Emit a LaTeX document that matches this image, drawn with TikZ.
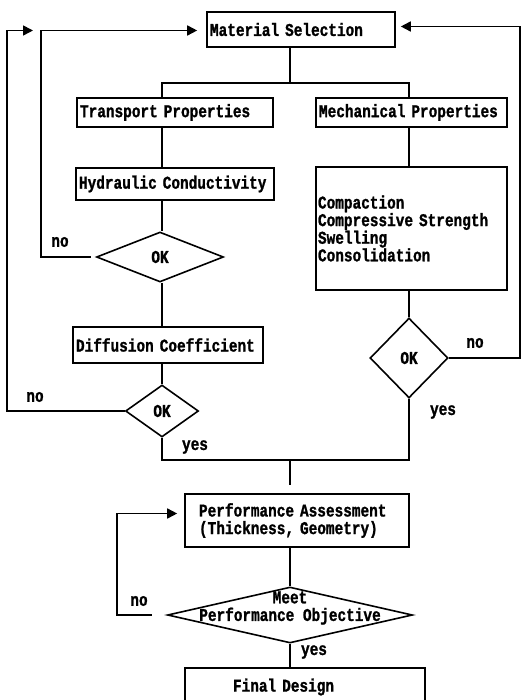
\documentclass[tikz,border=0pt]{standalone}
\usepackage{fontspec}
\newfontfamily\dotfont[FakeStretch=0.8,FakeBold=1.2]{Liberation Mono}
\usetikzlibrary{arrows.meta,shapes.geometric}
\begin{document}
\begin{tikzpicture}[x=1pt,y=-1pt]
		\tikzset{box/.style = {shape=rectangle,draw,inner xsep=3pt,inner ysep=0pt,align=left}}
		\tikzset{test/.style = {shape=diamond,draw,inner sep=0pt}}
		\tikzset{edge/.style = {->,> = {Triangle[length=10pt,width=10pt]}}}
		\tikzset{every node/.style = {font=\dotfont\bfseries\fontsize{18}{17.6}\selectfont}}
		\useasboundingbox (0,0) rectangle (522,700);
		\clip (0,0) rectangle (522,700);
		\tikzset{every path/.style = {line width=1.6pt}}
		% columns
		\coordinate (lcol) at (162,0);
		\coordinate (mcol) at (290,0);
		\coordinate (rcol) at (409,0);
		\coordinate (inner) at (41,0);
		\coordinate (outer) at (7,0);
		\coordinate (rloop) at (520,0);
		\coordinate (ploop) at (117,0);
		\coordinate (split) at (290,83);
		\coordinate (join) at (290,460);
		% boxes
		\node[box,text width=182pt,minimum height=35pt] (mat) at (301,29.5) {Material Selection};
		\node[box,text width=190pt,minimum height=29pt] (trans) at (175,112.5) {Transport Properties};
		\node[box,text width=185pt,minimum height=29pt,inner xsep=3pt] (mech) at (411.5,112.5) {Mechanical Properties};
		\node[box,text width=192pt,minimum height=32pt] (hyd) at (175,184) {Hydraulic Conductivity};
		\node[box,text width=187pt,minimum height=123pt,inner xsep=2pt] (comp) at (411.5,228.5) {Compaction\\Compressive Strength\\Swelling\\Consolidation};
		\node[box,text width=184pt,minimum height=36pt] (diff) at (168,345) {Diffusion Coefficient};
		\node[box,text width=196pt,minimum height=53pt,inner xsep=14pt] (perf) at (297,520.5) {Performance Assessment\\(Thickness, Geometry)};
		\node[box,text width=144pt,minimum height=38pt,inner xsep=48pt] (final) at (305,687) {Final Design};
		% decisions
		\node[test,minimum width=127pt,minimum height=50pt] (ok1) at (160,257) {OK};
		\node[test,minimum width=73pt,minimum height=52pt] (ok2) at (162,411) {OK};
		\node[test,minimum width=78pt,minimum height=80pt] (ok3) at (409,358) {OK};
		\node[test,minimum width=245pt,minimum height=56pt,
			label={[align=center,yshift=7pt]center:Meet\\Performance Objective}] (meet) at (290,615) {};
		% labels
		\node (no1) at (60,242) {no};
		\node (no2) at (35,397) {no};
		\node (no3) at (475,343) {no};
		\node (no4) at (139,601) {no};
		\node (yes1) at (195,447) {yes};
		\node (yes2) at (443,412) {yes};
		\node (yes3) at (314,652) {yes};
		% flow
		\draw (mat.south -| mcol) -- (split);
		\draw (trans.north -| lcol) |- (split) -| (mech.north -| rcol);
		\draw (trans.south -| lcol) -- (hyd.north -| lcol);
		\draw (hyd.south -| lcol) -- (ok1.north -| lcol);
		\draw (ok1.south -| lcol) -- (diff.north -| lcol);
		\draw (diff.south -| lcol) -- (ok2.north);
		\draw (mech.south -| rcol) -- (comp.north -| rcol);
		\draw (comp.south -| rcol) -- (ok3.north);
		\draw (ok2.south) |- (join) -| (ok3.south);
		\draw[shorten >=8pt] (join) -- (perf.north -| join);
		\draw (perf.south -| mcol) -- (meet.north);
		\draw (meet.south) -- (final.north -| meet.south);
		% feedback
		\draw[edge,shorten <=5pt,shorten >=9pt] (ok1.west) -- (ok1.west -| inner) |- ([yshift=-1pt]mat.west);
		\draw[edge,shorten >=8pt] (ok2.west) -- (ok2.west -| outer) |- ([yshift=-1pt]mat.west -| inner);
		\draw[edge,shorten >=5pt] (ok3.east) -- (ok3.east -| rloop) |- ([yshift=3pt]mat.east);
		\draw[edge,shorten <=15pt,shorten >=7pt] (meet.west) -- (meet.west -| ploop) |- ([yshift=7pt]perf.west);
	\end{tikzpicture}
\end{document}
